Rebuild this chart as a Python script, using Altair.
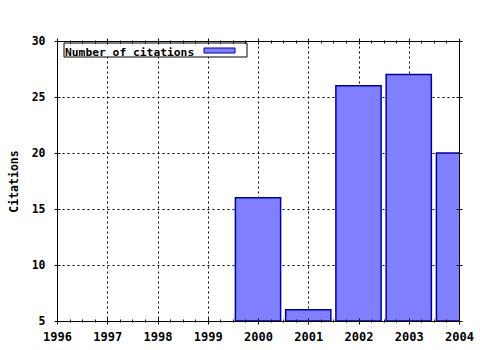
import altair as alt
import pandas as pd

# ---- data ----
years = [2000, 2001, 2002, 2003, 2004]
citations = [16, 6, 26, 27, 20]
x_ticks = [1996, 1997, 1998, 1999, 2000, 2001, 2002, 2003, 2004]
y_ticks = [5, 10, 15, 20, 25, 30]
x_minor = [y + q for y in x_ticks[:-1] for q in (0.25, 0.5, 0.75)]
legend_label = ["Number of citations"]
y_title = "Citations"

df = pd.DataFrame({"year": years, "citations": citations})

FONT = "DejaVu Sans Mono"
BAR_FILL = "#8080ff"
BAR_STROKE = "#0000a0"

xscale = alt.Scale(domain=[1996, 2004], nice=False, zero=False)
yscale = alt.Scale(domain=[5, 30], nice=False, zero=False)

base = alt.Chart(df).transform_calculate(
    x0="datum.year - 0.45", x1="datum.year + 0.45"
)


def layer(xaxis, yaxis, opacity=0.0):
    return base.mark_bar(
        fill=BAR_FILL, stroke=BAR_STROKE, strokeWidth=1.5, clip=True,
        opacity=opacity,
    ).encode(
        x=alt.X("x0:Q", scale=xscale, axis=xaxis, title=None),
        x2="x1:Q",
        y=alt.Y("citations:Q", scale=yscale, axis=yaxis, title=None),
        y2=alt.datum(5),
    )


common_lbl = dict(labelFont=FONT, labelFontWeight="bold", labelColor="#000",
                  domain=False, grid=False, tickColor="#000", zindex=1,
                  labelFlush=False, labelOverlap=False)

grid_x = alt.Axis(orient="bottom", values=x_ticks, grid=True, gridDash=[2, 3],
                  gridColor="#000", gridOpacity=1, ticks=False, labels=False,
                  domain=False, title=None, zindex=0)
grid_y = alt.Axis(orient="left", values=y_ticks, grid=True, gridDash=[2, 3],
                  gridColor="#000", gridOpacity=1, ticks=False, labels=False,
                  domain=False, title=y_title, titleFont=FONT, titleFontSize=11.5,
                  titleFontWeight="bold", titleColor="#000", titleX=-40,
                  titleY=140, titleAngle=270, titleAlign="center",
                  titleBaseline="alphabetic", zindex=0)

bottom = alt.Axis(orient="bottom", values=x_ticks, format="d", offset=-3,
                  tickSize=6, labelPadding=7, labelFontSize=12, title=None,
                  **common_lbl)
left = alt.Axis(orient="left", values=y_ticks, format="d", offset=-3,
                tickSize=6, labelPadding=9, labelFontSize=11.5, title=None,
                **common_lbl)
top = alt.Axis(orient="top", values=x_ticks, offset=-3, tickSize=6,
               labels=False, domain=False, grid=False, tickColor="#000",
               title=None, zindex=1)
right = alt.Axis(orient="right", values=y_ticks, offset=-3, tickSize=6,
                 labels=False, domain=False, grid=False, tickColor="#000",
                 title=None, zindex=1)
minor_b = alt.Axis(orient="bottom", values=x_minor, offset=-2, tickSize=3,
                   labels=False, domain=False, grid=False, tickColor="#000",
                   title=None, zindex=1)
minor_t = alt.Axis(orient="top", values=x_minor, offset=-2, tickSize=3,
                   labels=False, domain=False, grid=False, tickColor="#000",
                   title=None, zindex=1)

bars = layer(grid_x, grid_y, opacity=1.0)
ticks_bl = layer(bottom, left)
ticks_tr = layer(top, right)
ticks_mb = layer(minor_b, None)
ticks_mt = layer(minor_t, None)

leg_data = alt.Data(values=[{"label": s} for s in legend_label])
leg_box = alt.Chart(leg_data).mark_rect(
    fill="white", stroke="#000", strokeWidth=1
).encode(x=alt.value(7), x2=alt.value(190), y=alt.value(2), y2=alt.value(16))
leg_text = alt.Chart(leg_data).mark_text(
    font=FONT, fontSize=11.3, fontWeight="bold", align="left",
    baseline="alphabetic", color="#000"
).encode(x=alt.value(8), y=alt.value(14.5), text="label:N")
leg_swatch = alt.Chart(leg_data).mark_rect(
    fill=BAR_FILL, stroke=BAR_STROKE, strokeWidth=1
).encode(x=alt.value(147), x2=alt.value(178), y=alt.value(7), y2=alt.value(12))

chart = alt.layer(
    bars, ticks_bl, ticks_tr, ticks_mb, ticks_mt, leg_box, leg_text, leg_swatch
).resolve_axis(
    x="independent", y="independent"
).properties(
    width=402, height=280,
    autosize=alt.AutoSizeParams(type="none"),
    padding={"left": 57, "top": 41, "right": 21, "bottom": 29},
    background="white",
).configure_view(stroke="#000", strokeWidth=1)

chart.save("out.html", embed_options={"renderer": "svg", "actions": False})
